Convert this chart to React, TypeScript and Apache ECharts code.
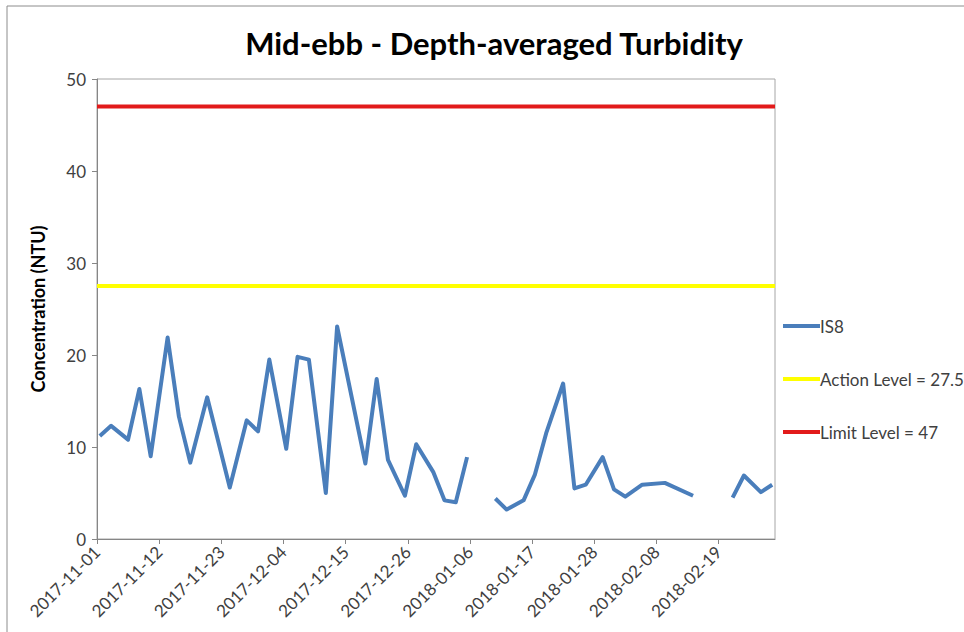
import React, { useEffect, useRef } from "react";
import * as echarts from "echarts";

const startDate = "2017-11-01";
const endDate = "2018-03-01";

const sampleDates = [
  "2017-11-01", "2017-11-03", "2017-11-06", "2017-11-08", "2017-11-10",
  "2017-11-13", "2017-11-15", "2017-11-17", "2017-11-20", "2017-11-24",
  "2017-11-27", "2017-11-29", "2017-12-01", "2017-12-04", "2017-12-06",
  "2017-12-08", "2017-12-11", "2017-12-13", "2017-12-18", "2017-12-20",
  "2017-12-22", "2017-12-25", "2017-12-27", "2017-12-30", "2018-01-01",
  "2018-01-03", "2018-01-05", "2018-01-08", "2018-01-10", "2018-01-12",
  "2018-01-15", "2018-01-17", "2018-01-19", "2018-01-22", "2018-01-24",
  "2018-01-26", "2018-01-29", "2018-01-31", "2018-02-02", "2018-02-05",
  "2018-02-09", "2018-02-14", "2018-02-16", "2018-02-21", "2018-02-23",
  "2018-02-26", "2018-02-28",
];

const is8Values: (number | null)[] = [
  11.2, 12.3, 10.8, 16.3, 9.0,
  21.9, 13.3, 8.3, 15.4, 5.6,
  12.9, 11.7, 19.5, 9.8, 19.8,
  19.5, 5.0, 23.1, 8.2, 17.4,
  8.6, 4.7, 10.3, 7.3, 4.2,
  4.0, 8.9, null, 4.4, 3.2,
  4.2, 7.0, 11.5, 16.9, 5.5,
  5.9, 8.9, 5.4, 4.6, 5.9,
  6.1, 4.7, null, 4.5, 6.9,
  5.1, 5.9,
];

const tickLabels = [
  "2017-11-01", "2017-11-12", "2017-11-23", "2017-12-04", "2017-12-15",
  "2017-12-26", "2018-01-06", "2018-01-17", "2018-01-28", "2018-02-08",
  "2018-02-19",
];

const actionLevel = 27.5;
const limitLevel = 47;

const seriesNames = ["IS8", "Action Level = 27.5", "Limit Level = 47"];
const seriesColors = ["#4a7ebb", "#ffff00", "#e21a1a"];

const DAY = 86400000;
const toUTC = (s: string) => {
  const [y, m, d] = s.split("-").map(Number);
  return Date.UTC(y, m - 1, d);
};
const dayIndex = (s: string) => Math.round((toUTC(s) - toUTC(startDate)) / DAY);

export default function App() {
  const ref = useRef<HTMLDivElement>(null);

  useEffect(() => {
    if (!ref.current) return;
    const chart = echarts.init(ref.current, undefined, { renderer: "svg" });

    const xMax = dayIndex(endDate);
    const tickValues = tickLabels.map(dayIndex);
    const labelByDay: Record<number, string> = {};
    tickLabels.forEach((t) => (labelByDay[dayIndex(t)] = t));

    // points centred in their day slot (Excel date axis, between tick marks)
    const is8Data = sampleDates.map((d, i) => [
      dayIndex(d) + 0.5,
      is8Values[i] === null ? "-" : is8Values[i],
    ]);
    const actionData = [
      [0, actionLevel],
      [xMax, actionLevel],
    ];
    const limitData = [
      [0, limitLevel],
      [xMax, limitLevel],
    ];

    const font = "Lato, Carlito, Calibri, sans-serif";

    chart.setOption({
      animation: false,
      backgroundColor: "#ffffff",
      textStyle: { fontFamily: font },
      title: {
        text: "Mid-ebb - Depth-averaged Turbidity",
        left: 489,
        textAlign: "center",
        top: 22,
        textStyle: {
          fontFamily: font,
          fontWeight: "bold",
          fontSize: 31,
          color: "#000000",
        },
      },
      grid: {
        left: 97,
        top: 79,
        right: 189,
        bottom: 93,
        show: true,
        borderColor: "#a6a6a6",
        borderWidth: 1,
        backgroundColor: "transparent",
      },
      legend: {
        orient: "vertical",
        left: 778,
        top: 312,
        itemWidth: 37,
        itemHeight: 4,
        itemGap: 35,
        icon: "rect",
        data: seriesNames.map((n, i) => ({
          name: n,
          icon: "rect",
          itemStyle: { color: seriesColors[i] },
        })),
        textStyle: {
          fontFamily: font,
          fontSize: 17,
          lineHeight: 18,
          color: "#404040",
          padding: [0, 0, 0, -5],
        },
      },
      xAxis: {
        type: "value",
        min: 0,
        max: xMax,
        splitLine: { show: false },
        axisLine: { show: true, lineStyle: { color: "#868686", width: 1 } },
        axisTick: {
          show: true,
          length: 5,
          customValues: tickValues,
          lineStyle: { color: "#868686" },
        },
        axisLabel: {
          customValues: tickValues,
          rotate: 45,
          fontSize: 17,
          color: "#404040",
          fontFamily: font,
          margin: 10,
          formatter: (v: number) => labelByDay[v] ?? "",
        },
      },
      yAxis: {
        type: "value",
        min: 0,
        max: 50,
        interval: 10,
        name: "Concentration (NTU)",
        nameLocation: "middle",
        nameGap: 50,
        nameRotate: 90,
        nameTextStyle: {
          fontFamily: font,
          fontWeight: "bold",
          fontSize: 18,
          color: "#000000",
        },
        splitLine: { show: false },
        axisLine: { show: true, lineStyle: { color: "#868686", width: 1 } },
        axisTick: { show: true, length: 5, lineStyle: { color: "#868686" } },
        axisLabel: {
          fontSize: 17,
          color: "#404040",
          fontFamily: font,
          margin: 11,
        },
      },
      graphic: [
        {
          type: "rect",
          shape: { x: 7, y: 6, width: 1200, height: 1200 },
          style: { fill: "none", stroke: "#8c8c8c", lineWidth: 1 },
          silent: true,
          z: -1,
        },
      ],
      series: [
        {
          name: seriesNames[0],
          type: "line",
          data: is8Data,
          symbol: "none",
          connectNulls: false,
          lineStyle: { color: seriesColors[0], width: 4, join: "round" },
          itemStyle: { color: seriesColors[0] },
          z: 3,
        },
        {
          name: seriesNames[1],
          type: "line",
          data: actionData,
          symbol: "none",
          lineStyle: { color: seriesColors[1], width: 4 },
          itemStyle: { color: seriesColors[1] },
          z: 2,
        },
        {
          name: seriesNames[2],
          type: "line",
          data: limitData,
          symbol: "none",
          lineStyle: { color: seriesColors[2], width: 4 },
          itemStyle: { color: seriesColors[2] },
          z: 2,
        },
      ],
    });

    return () => chart.dispose();
  }, []);

  return (
    <div
      ref={ref}
      style={{
        position: "fixed",
        left: 0,
        top: 0,
        width: 964,
        height: 632,
        background: "#ffffff",
      }}
    />
  );
}
